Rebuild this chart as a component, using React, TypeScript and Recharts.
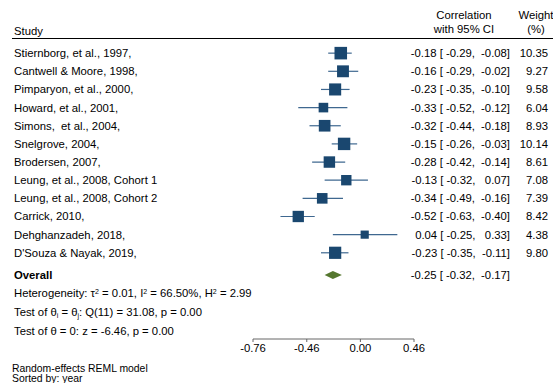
import React from "react";
import {
  ComposedChart,
  ReferenceLine,
  Scatter,
  XAxis,
  YAxis
} from "recharts";

const studies = [
  "Stiernborg, et al., 1997,",
  "Cantwell & Moore, 1998,",
  "Pimparyon, et al., 2000,",
  "Howard, et al., 2001,",
  "Simons,  et al., 2004,",
  "Snelgrove, 2004,",
  "Brodersen, 2007,",
  "Leung, et al., 2008, Cohort 1",
  "Leung, et al., 2008, Cohort 2",
  "Carrick, 2010,",
  "Dehghanzadeh, 2018,",
  "D'Souza & Nayak, 2019,"
];
const estimates = [-0.18, -0.16, -0.23, -0.33, -0.32, -0.15, -0.28, -0.13, -0.34, -0.52, 0.04, -0.23];
const lower = [-0.29, -0.29, -0.35, -0.52, -0.44, -0.26, -0.42, -0.32, -0.49, -0.63, -0.25, -0.35];
const upper = [-0.08, -0.02, -0.1, -0.12, -0.18, -0.03, -0.14, 0.07, -0.16, -0.4, 0.33, -0.11];
const weights = [10.35, 9.27, 9.58, 6.04, 8.93, 10.14, 8.61, 7.08, 7.39, 8.42, 4.38, 9.8];

const overallEstimate = -0.25;
const overallLower = -0.32;
const overallUpper = -0.17;

const tickLabels = [-0.76, -0.46, 0.0, 0.46];

const heterogeneity = { tau2: "0.01", i2: "66.50%", h2: "2.99" };
const qTest = { df: 11, q: "31.08", p: "0.00" };
const zTest = { z: "-6.46", p: "0.00" };

// rows are plotted on the Fisher z scale, labelled in r
const OVERALL_ROW = 12.22;
const FONT = "'Liberation Sans', Arial, Helvetica, sans-serif";
const FS = 11.3;
const NAVY = "#1a476f";
const GREEN = "#55772f";

const fmt = (v: number, w: number) => v.toFixed(2).padStart(w, " ");
const ciText = (e: number, l: number, u: number) => `${fmt(e, 5)} [${fmt(l, 6)}, ${fmt(u, 6)}]`;

const studyData = estimates.map((e, i) => ({
  z: Math.atanh(e),
  row: i,
  w: weights[i]
}));
const diamondData = [overallLower, overallEstimate, overallUpper].map((v) => ({
  z: Math.atanh(v),
  row: OVERALL_ROW
}));
const tickPos = tickLabels.map((t) => Math.atanh(t));

const Square = (props: any) => {
  const { cx, cy, payload } = props;
  const s = 3.9 * Math.sqrt(payload.w);
  return <rect x={cx - s / 2} y={cy - s / 2} width={s} height={s} fill={NAVY} />;
};

const Diamond = (props: any) => {
  const pts = props.points || [];
  if (pts.length < 3) return null;
  const [a, b, c] = pts;
  const h = 4;
  return (
    <polygon
      points={`${a.x},${a.y} ${b.x},${b.y - h} ${c.x},${c.y} ${b.x},${b.y + h}`}
      fill={GREEN}
    />
  );
};

const RowTick = (props: any) => {
  const { y, payload } = props;
  const v = payload.value;
  const isOverall = Math.abs(v - OVERALL_ROW) < 0.01;
  const i = Math.round(v);
  const text = isOverall
    ? ciText(overallEstimate, overallLower, overallUpper)
    : ciText(estimates[i], lower[i], upper[i]);
  return (
    <g fontFamily={FONT} fontSize={FS} fill="#000">
      <text
        x={14}
        y={y}
        dy={4}
        fontWeight={isOverall ? "bold" : "normal"}
        xmlSpace="preserve"
        style={{ whiteSpace: "pre" }}
      >
        {isOverall ? "Overall" : studies[i]}
      </text>
      <text x={510} y={y} dy={4} textAnchor="end" xmlSpace="preserve" style={{ whiteSpace: "pre" }}>
        {text}
      </text>
      {!isOverall && (
        <text x={548} y={y} dy={4} textAnchor="end">
          {weights[i].toFixed(2)}
        </text>
      )}
    </g>
  );
};

export default function App() {
  const rowTicks = [...studies.map((_, i) => i), OVERALL_ROW];
  const sup = { fontSize: 7, baselineShift: "super" } as any;
  const sub = { fontSize: 7, baselineShift: "-2" } as any;
  return (
    <div style={{ position: "absolute", left: 0, top: 0, width: 553, height: 383, background: "#fff" }}>
      <ComposedChart width={553} height={383} margin={{ top: 35, right: 139, bottom: 14, left: 0 }}>
        <XAxis
          dataKey="z"
          type="number"
          domain={[tickPos[0], tickPos[tickPos.length - 1]]}
          ticks={tickPos}
          interval={0}
          allowDataOverflow
          height={30}
          tickSize={3}
          stroke="#666"
          tick={{ fill: "#000", fontSize: FS, fontFamily: FONT }}
          tickFormatter={(v: number) => {
            const k = tickPos.findIndex((p) => Math.abs(p - v) < 1e-9);
            return k >= 0 ? tickLabels[k].toFixed(2) : "";
          }}
        />
        <YAxis
          dataKey="row"
          type="number"
          domain={[-1, 15.75]}
          reversed
          ticks={rowTicks}
          interval={0}
          width={253}
          axisLine={false}
          tickLine={false}
          tick={<RowTick />}
        />
        {studies.map((_, i) => (
          <ReferenceLine
            key={i}
            segment={[
              { x: Math.atanh(lower[i]), y: i },
              { x: Math.atanh(upper[i]), y: i }
            ]}
            stroke="#3f6890"
            strokeWidth={1.2}
          />
        ))}
        <Scatter data={studyData} shape={<Square />} isAnimationActive={false} />
        <Scatter
          data={diamondData}
          shape={() => <g />}
          line={Diamond}
          lineType="joint"
          fill={GREEN}
          isAnimationActive={false}
        />
      </ComposedChart>
      <svg
        width={553}
        height={383}
        style={{ position: "absolute", left: 0, top: 0, pointerEvents: "none" }}
        fontFamily={FONT}
        fontSize={FS}
      >
        <text x={14} y={35}>Study</text>
        <text x={464} y={19} textAnchor="middle">Correlation</text>
        <text x={464} y={33} textAnchor="middle">with 95% CI</text>
        <text x={536} y={19} textAnchor="middle">Weight</text>
        <text x={536} y={33} textAnchor="middle">(%)</text>
        <line x1={12} x2={553} y1={38.5} y2={38.5} stroke="#000" strokeWidth={1} />
        <text x={14} y={297}>
          Heterogeneity: τ<tspan style={sup}>2</tspan> = {heterogeneity.tau2}, I<tspan style={sup}>2</tspan> ={" "}
          {heterogeneity.i2}, H<tspan style={sup}>2</tspan> = {heterogeneity.h2}
        </text>
        <text x={14} y={316}>
          Test of θ<tspan style={sub}>i</tspan> = θ<tspan style={sub}>j</tspan>: Q({qTest.df}) = {qTest.q}, p ={" "}
          {qTest.p}
        </text>
        <text x={14} y={335}>
          Test of θ = 0: z = {zTest.z}, p = {zTest.p}
        </text>
        <g fontSize={10.4}>
          <text x={12} y={372}>Random-effects REML model</text>
          <text x={12} y={382}>Sorted by: year</text>
        </g>
      </svg>
    </div>
  );
}
